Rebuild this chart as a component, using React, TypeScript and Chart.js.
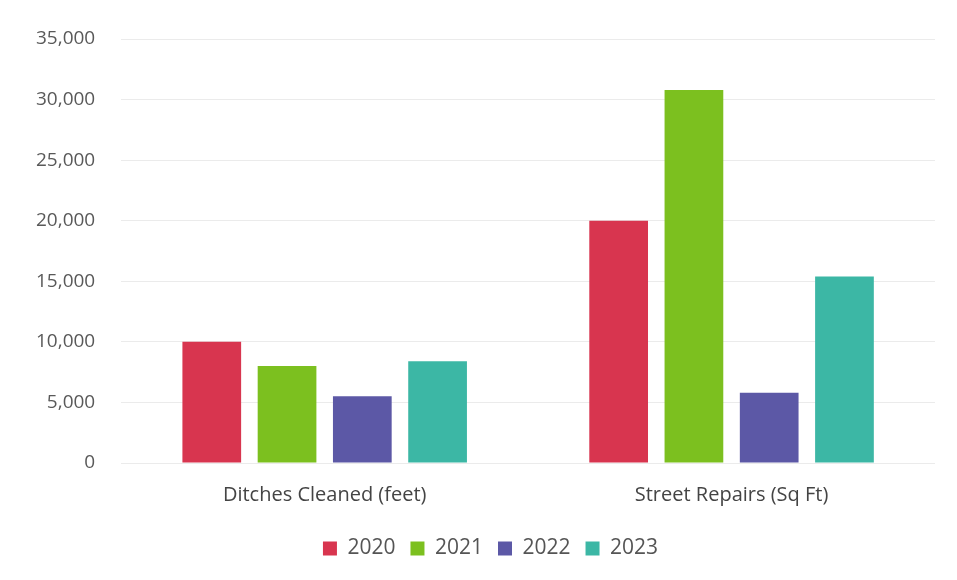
import React, { useEffect, useRef } from "react";
import { Chart, registerables } from "chart.js";

Chart.register(...registerables);

const categories = ["Ditches Cleaned (feet)", "Street Repairs (Sq Ft)"];
const seriesLabels = ["2020", "2021", "2022", "2023"];
const values2020 = [10000, 20000];
const values2021 = [8000, 30800];
const values2022 = [5500, 5800];
const values2023 = [8400, 15400];
const colors = ["#D8354F", "#7CC01F", "#5C58A6", "#3CB7A5"];

const legendShift = {
  id: "legendShift",
  afterLayout(chart: any) {
    const lg = chart.legend;
    if (lg) {
      lg.left += 18;
      lg.right += 18;
    }
  },
};

export default function App() {
  const ref = useRef<HTMLCanvasElement>(null);
  useEffect(() => {
    if (!ref.current) return;
    const all = [values2020, values2021, values2022, values2023];
    const chart = new Chart(ref.current, {
      type: "bar",
      data: {
        labels: categories,
        datasets: seriesLabels.map((l, i) => ({
          label: l,
          data: all[i],
          backgroundColor: colors[i],
          borderWidth: 0,
          categoryPercentage: 0.74,
          barPercentage: 0.78,
        })),
      },
      plugins: [legendShift],
      options: {
        animation: false,
        responsive: false,
        maintainAspectRatio: false,
        layout: { padding: { top: 39, right: 22, left: 10, bottom: 11 } },
        plugins: {
          legend: {
            position: "bottom",
            labels: {
              boxWidth: 14,
              boxHeight: 14,
              padding: 15,
              color: "#555",
              font: { family: "Open Sans", size: 21 },
            },
          },
          tooltip: { enabled: false },
        },
        scales: {
          x: {
            grid: { display: false },
            border: { display: false },
            ticks: { color: "#444", font: { family: "Open Sans", size: 20 }, padding: 12 },
            afterFit: (s: any) => {
              s.height += 4;
            },
          },
          y: {
            min: 0,
            max: 35000,
            ticks: {
              stepSize: 5000,
              color: "#595959",
              padding: 26,
              font: { family: "Open Sans", size: 19 },
              callback: (v: any) => Number(v).toLocaleString("en-US"),
            },
            grid: { color: "#ebebeb", lineWidth: 1, drawTicks: false },
            border: { display: false },
          },
        },
      },
    });
    return () => chart.destroy();
  }, []);
  return (
    <div style={{ position: "fixed", left: 0, top: 0, width: 957, height: 580, background: "#fff" }}>
      <canvas ref={ref} width={957} height={580} />
    </div>
  );
}
